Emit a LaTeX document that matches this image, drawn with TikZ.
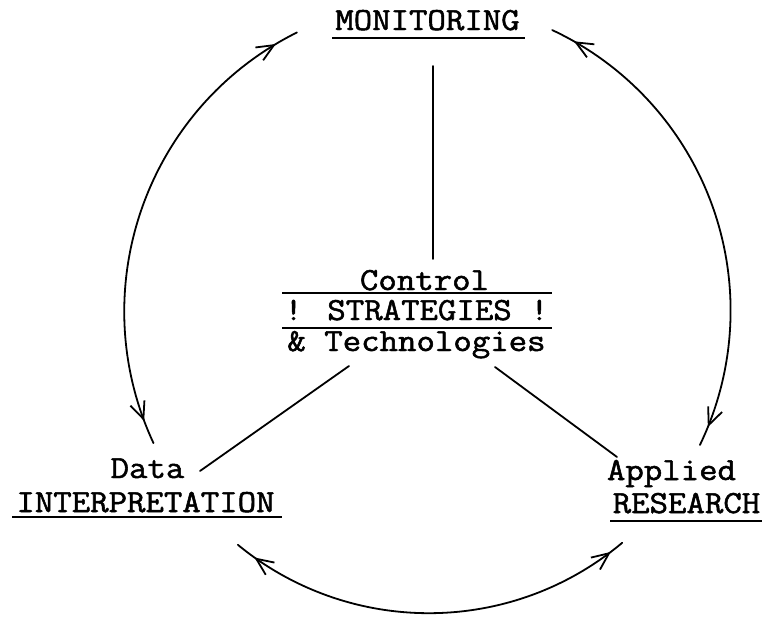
\documentclass[tikz,border=0pt]{standalone}
\usepackage{graphicx}
\usepackage{fontspec}
\newfontfamily\tw[FakeBold=1.5]{Latin Modern Mono}
\usetikzlibrary{arrows.meta,decorations.markings,calc}
\newcommand{\tws}[1]{\scalebox{1}[0.9]{#1}}
\begin{document}
\begin{tikzpicture}[x=1pt,y=1pt,
  lbl/.style={inner sep=0pt, anchor=base, font=\tw\fontsize{35.8}{40}\selectfont},
  rule/.style={line width=2pt},
  conn/.style={line width=1.8pt, line cap=round},
  twoheads/.style 2 args={conn, postaction={decorate}, decoration={markings,
    mark=at position #1 with {\arrowreversed[line width=1.8pt]{Straight Barb[length=17pt,width=15pt]}},
    mark=at position #2 with {\arrow[line width=1.8pt]{Straight Barb[length=17pt,width=15pt]}}}}]
\fill[white] (0,0) rectangle (768,-616);
\useasboundingbox (0,0) rectangle (768,-616);
% labels
\node[lbl] (mon) at (427.5,-30) {\tws{MONITORING}};
\node[lbl] (ctl) at (424.5,-290) {\tws{Control}};
\node[lbl] (str) at (416.5,-320) {\tws{! STRATEGIES !}};
\node[lbl] (tec) at (416.5,-351) {\tws{\& Technologies}};
\node[lbl] (dat) at (147.5,-478) {\tws{Data}};
\node[lbl] (int) at (145.5,-512) {\tws{INTERPRETATION}};
\node[lbl] (app) at (671.5,-480) {\tws{Applied}};
\node[lbl] (res) at (686.5,-513) {\tws{RESEARCH}};
% underlines / rules
\draw[rule] (332,-38) -- (525,-38);
\draw[rule] (282,-293) -- (552,-293);
\draw[rule] (282,-328) -- (552,-328);
\draw[rule] (12,-517) -- (282,-517);
\draw[rule] (610,-521) -- (762,-521);
% straight connectors
\coordinate (v1) at (433,-66); \coordinate (v2) at (433,-259);
\coordinate (l1) at (349,-366); \coordinate (l2) at (200,-471);
\coordinate (r1) at (495,-367); \coordinate (r2) at (617,-457);
\draw[conn] (v1) -- (v2);
\draw[conn] (l1) -- (l2);
\draw[conn] (r1) -- (r2);
% arcs
\coordinate (Lc) at (436,-311.4);
\coordinate (Rc) at (420.8,-310.6);
\coordinate (Bc) at (428.8,-312.4);
\coordinate (lt) at ($(Lc)+(116.5:311.7)$);
\coordinate (rt) at ($(Rc)+(64.9:309.8)$);
\coordinate (bl) at ($(Bc)+(230.6:300.8)$);
\draw[twoheads={0.05}{0.95}] (lt) arc[start angle=116.5, end angle=205, radius=311.7pt];
\draw[twoheads={0.05}{0.96}] (rt) arc[start angle=64.9, end angle=-25.7, radius=309.8pt];
\draw[twoheads={0.05}{0.965}] (bl) arc[start angle=230.6, end angle=310, radius=300.8pt];
\end{tikzpicture}
\end{document}
